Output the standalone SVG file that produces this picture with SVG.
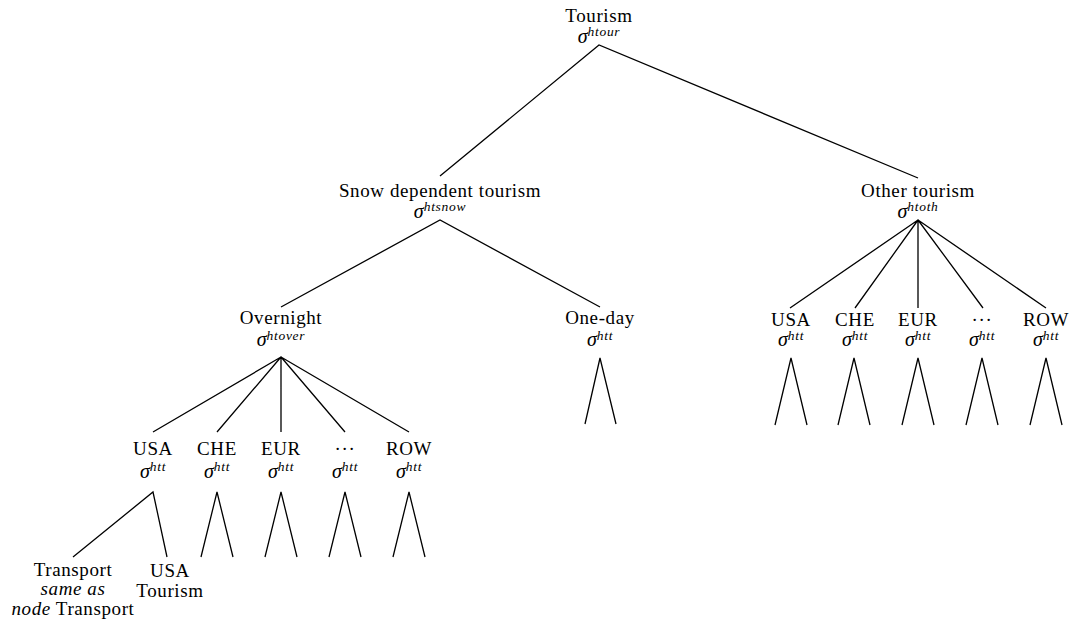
<svg xmlns="http://www.w3.org/2000/svg" width="1071" height="623" viewBox="0 0 1071 623">
<style>
.lbl{font-family:"Liberation Serif","Times New Roman",serif;font-size:19px;letter-spacing:0.6px;fill:#000;text-anchor:middle}
.it{font-style:italic}
.sig{font-family:"Liberation Serif","Times New Roman",serif;font-size:20px;font-style:italic;fill:#000;text-anchor:middle}
.sup{font-size:13.5px;letter-spacing:0.7px}
.e{stroke:#000;stroke-width:1.3;fill:none}
</style>
<rect width="1071" height="623" fill="#fff"/>
<g id="connectors">
<path class="e" d="M440,176 L599,45 L918,178"/>
<path class="e" d="M281,307 L440,220 L600,307"/>
<path class="e" d="M790,308 L918,220 M855,308 L918,220 M918,308 L918,220 M983,308 L918,220 M1046,308 L918,220"/>
<path class="e" d="M153,432 L281,357 M217,432 L281,357 M281,432 L281,357 M345,432 L281,357 M409,432 L281,357"/>
<path class="e" d="M73,557 L153,492 L167,557"/>
<path class="e" d="M201,557 L217,492 L233,557 M265,557 L281,492 L297,557 M329,557 L345,492 L361,557 M393,557 L409,492 L425,557"/>
<path class="e" d="M585,424 L600,358 L616,424"/>
<path class="e" d="M775,425 L791,358 L807,425 M838,425 L854,358 L870,425 M902,425 L918,358 L934,425 M966,425 L982,358 L998,425 M1030,425 L1046,358 L1062,425"/>
</g>
<g id="n-tourism"><text class="lbl" x="599" y="22">Tourism</text><text class="sig" x="599" y="43">σ<tspan class="sup" dy="-7">htour</tspan></text></g>
<g id="n-snow"><text class="lbl" x="440" y="197">Snow dependent tourism</text><text class="sig" x="440" y="218">σ<tspan class="sup" dy="-7">htsnow</tspan></text></g>
<g id="n-other"><text class="lbl" x="918" y="197">Other tourism</text><text class="sig" x="918" y="218">σ<tspan class="sup" dy="-7">htoth</tspan></text></g>
<g id="n-overnight"><text class="lbl" x="281" y="324">Overnight</text><text class="sig" x="281" y="346">σ<tspan class="sup" dy="-6">htover</tspan></text></g>
<g id="n-oneday"><text class="lbl" x="600" y="324">One-day</text><text class="sig" x="600" y="346">σ<tspan class="sup" dy="-6">htt</tspan></text></g>
<g id="n-o-usa"><text class="lbl" x="791" y="326">USA</text><text class="sig" x="791" y="346">σ<tspan class="sup" dy="-6">htt</tspan></text></g>
<g id="n-o-che"><text class="lbl" x="855" y="326">CHE</text><text class="sig" x="855" y="346">σ<tspan class="sup" dy="-6">htt</tspan></text></g>
<g id="n-o-eur"><text class="lbl" x="918" y="326">EUR</text><text class="sig" x="918" y="346">σ<tspan class="sup" dy="-6">htt</tspan></text></g>
<g id="n-o-dots"><text class="lbl" x="982" y="326">···</text><text class="sig" x="982" y="346">σ<tspan class="sup" dy="-6">htt</tspan></text></g>
<g id="n-o-row"><text class="lbl" x="1046" y="326">ROW</text><text class="sig" x="1046" y="346">σ<tspan class="sup" dy="-6">htt</tspan></text></g>
<g id="n-usa"><text class="lbl" x="153" y="455">USA</text><text class="sig" x="153" y="478">σ<tspan class="sup" dy="-7">htt</tspan></text></g>
<g id="n-che"><text class="lbl" x="217" y="455">CHE</text><text class="sig" x="217" y="478">σ<tspan class="sup" dy="-7">htt</tspan></text></g>
<g id="n-eur"><text class="lbl" x="281" y="455">EUR</text><text class="sig" x="281" y="478">σ<tspan class="sup" dy="-7">htt</tspan></text></g>
<g id="n-dots"><text class="lbl" x="345" y="455">···</text><text class="sig" x="345" y="478">σ<tspan class="sup" dy="-7">htt</tspan></text></g>
<g id="n-row"><text class="lbl" x="409" y="455">ROW</text><text class="sig" x="409" y="478">σ<tspan class="sup" dy="-7">htt</tspan></text></g>
<g id="n-transport"><text class="lbl" x="73" y="576">Transport</text><text class="lbl it" x="73" y="595">same as</text><text class="lbl" x="73" y="615"><tspan class="it">node</tspan> Transport</text></g>
<g id="n-usatourism"><text class="lbl" x="170" y="577">USA</text><text class="lbl" x="170" y="597">Tourism</text></g>
</svg>
